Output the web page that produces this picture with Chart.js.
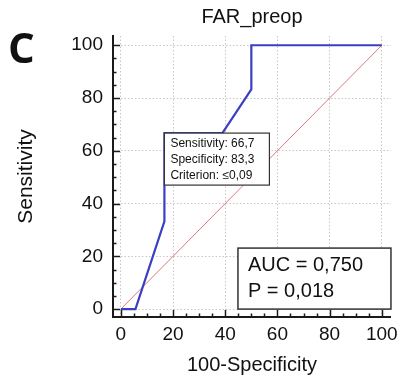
<!DOCTYPE html>
<html lang="en">
<head>
<meta charset="UTF-8">
<title>FAR_preop ROC</title>
<script src="https://cdn.jsdelivr.net/npm/chart.js"></script>
<style>
    html, body { margin: 0; padding: 0; background: #ffffff; }
    #wrap { width: 404px; height: 381px; position: relative; }
</style>
</head>
<body>
<div id="wrap"><canvas id="roc"></canvas></div>
<script>
// ROC curve points (100-Specificity, Sensitivity)
const rocX = [0, 5.6, 16.7, 16.7, 38.9, 50, 50, 100];
const rocY = [0, 0, 33.3, 66.7, 66.7, 83.3, 100, 100];
// reference diagonal
const diagX = [0, 100];
const diagY = [0, 100];
// tick marks every 5, labels every 20
const tickValues = [0, 5, 10, 15, 20, 25, 30, 35, 40, 45, 50, 55, 60, 65, 70, 75, 80, 85, 90, 95, 100];
const criterionText = ['Sensitivity: 66,7', 'Specificity: 83,3', 'Criterion: \u22640,09'];
const criterionPoint = [16.7, 66.7];
const statsText = ['AUC = 0,750', 'P = 0,018'];

const FONT = '"Liberation Sans", Arial, sans-serif';

const toPts = (xs, ys) => xs.map((x, i) => ({ x: x, y: ys[i] }));

const setTicks = s => { s.ticks = tickValues.map(v => ({ value: v })); };

// inward tick marks, annotations and panel letter
const extras = {
    id: 'extras',
    afterDraw(chart) {
        const c = chart.ctx;
        const a = chart.chartArea;
        const xs = chart.scales.x, ys = chart.scales.y;
        c.save();
        c.strokeStyle = '#1a1a1a';
        c.lineWidth = 1.5;
        tickValues.forEach(v => {
            const len = v % 20 === 0 ? 7 : 3.5;
            const px = Math.round(xs.getPixelForValue(v)) + 0.5;
            c.beginPath(); c.moveTo(px, a.bottom); c.lineTo(px, a.bottom - len); c.stroke();
            const py = Math.round(ys.getPixelForValue(v)) + 0.5;
            c.beginPath(); c.moveTo(a.left, py); c.lineTo(a.left + len, py); c.stroke();
        });

        // criterion box, top-left corner on the cut-off point
        const bx = xs.getPixelForValue(criterionPoint[0]);
        const by = ys.getPixelForValue(criterionPoint[1]);
        c.fillStyle = '#ffffff';
        c.fillRect(bx, by, 105, 52);
        c.strokeStyle = '#333';
        c.lineWidth = 1.2;
        c.strokeRect(bx, by, 105, 52);
        c.fillStyle = '#111';
        c.font = '12px ' + FONT;
        c.textBaseline = 'middle';
        criterionText.forEach((t, i) => c.fillText(t, bx + 6, by + 11 + i * 15.8));

        // AUC box in the lower right
        const w = 153, h = 61;
        const rx = a.right - w, ry = ys.getPixelForValue(0) - h;
        c.fillStyle = '#ffffff';
        c.fillRect(rx, ry, w, h);
        c.strokeStyle = '#333';
        c.lineWidth = 1.5;
        c.strokeRect(rx, ry, w, h);
        c.fillStyle = '#111';
        c.font = '20px ' + FONT;
        statsText.forEach((t, i) => c.fillText(t, rx + 10, ry + 17 + i * 26));

        // title and panel letter
        c.textAlign = 'center';
        c.font = '20px ' + FONT;
        c.fillText('FAR_preop', (a.left + a.right) / 2, 17);
        c.textAlign = 'left';
        c.textBaseline = 'alphabetic';
        c.font = 'bold 42px "Open Sans", ' + FONT;
        c.fillText('C', 8, 63);
        c.restore();
    }
};

const gridColor = ctx => ctx.tick && ctx.tick.value % 20 === 0 ? 'rgba(0,0,0,0.22)' : 'rgba(0,0,0,0)';

new Chart(document.getElementById('roc'), {
    type: 'scatter',
    data: {
        datasets: [
            {
                label: 'ROC',
                data: toPts(rocX, rocY),
                showLine: true,
                borderColor: '#3b3fc1',
                borderWidth: 2.2,
                pointRadius: 0,
                tension: 0,
                order: 1
            },
            {
                label: 'Reference',
                data: toPts(diagX, diagY),
                showLine: true,
                borderColor: '#d97a7a',
                borderWidth: 1,
                pointRadius: 0,
                tension: 0,
                order: 2
            }
        ]
    },
    options: {
        responsive: true,
        maintainAspectRatio: false,
        animation: false,
        layout: { padding: { top: 36, right: 10, left: 0, bottom: 0 } },
        plugins: {
            legend: { display: false },
            tooltip: { enabled: false },
            title: { display: false }
        },
        scales: {
            x: {
                type: 'linear',
                min: -3,
                max: 103.5,
                afterBuildTicks: setTicks,
                afterFit: s => { s.height = 64; },
                border: { display: true, color: '#1a1a1a', width: 2, dash: [1.5, 2] },
                grid: { drawTicks: false, color: gridColor, lineWidth: 1 },
                ticks: {
                    autoSkip: false,
                    maxRotation: 0,
                    padding: 6,
                    color: '#111',
                    font: { family: FONT, size: 19 },
                    callback: v => v % 20 === 0 ? String(v) : ''
                },
                title: {
                    display: true,
                    text: '100-Specificity',
                    color: '#111',
                    font: { family: FONT, size: 20 },
                    padding: { top: 0, bottom: 4 }
                }
            },
            y: {
                type: 'linear',
                min: -3,
                max: 103.5,
                afterBuildTicks: setTicks,
                afterFit: s => { s.width = 113; },
                border: { display: true, color: '#1a1a1a', width: 2, dash: [1.5, 2] },
                grid: { drawTicks: false, color: gridColor, lineWidth: 1 },
                ticks: {
                    autoSkip: false,
                    padding: 10,
                    color: '#111',
                    font: { family: FONT, size: 19 },
                    callback: v => v % 20 === 0 ? String(v) : ''
                },
                title: {
                    display: true,
                    text: 'Sensitivity',
                    color: '#111',
                    font: { family: FONT, size: 21 },
                    padding: { top: 14, bottom: 0 }
                }
            }
        }
    },
    plugins: [extras]
});
</script>
</body>
</html>
